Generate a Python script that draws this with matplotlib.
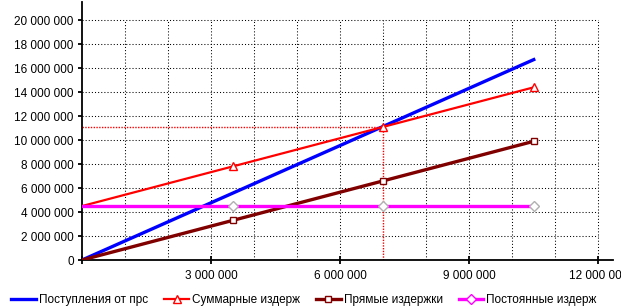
import matplotlib
matplotlib.use("Agg")
from matplotlib import pyplot as plt
from matplotlib.ticker import FuncFormatter, MultipleLocator
from matplotlib.lines import Line2D

plt.rcParams['font.family'] = ['Liberation Sans', 'DejaVu Sans']
plt.rcParams['font.size'] = 8.5

# data
volume = [0, 3500000, 7000000, 10500000]
revenue = [0, 5570000, 11140000, 16710000]
total_costs = [4500000, 7800000, 11100000, 14400000]
direct_costs = [0, 3300000, 6600000, 9900000]
fixed_costs = [4500000, 4500000, 4500000, 4500000]
breakeven_x = 7000000
breakeven_y = 11100000

labels = ["Поступления от прс", "Суммарные издерж", "Прямые издержки", "Постоянные издерж"]

fig = plt.figure(figsize=(6.21, 3.07), dpi=100)
ax = fig.add_axes([0.132, 0.153, 0.855, 0.84])

#grid only inside 0..12M x 0..20M (no grid line under the break-even vertical)
grid_x = [i * 1000000 for i in range(1, 13) if i * 1000000 != breakeven_x]
grid_y = [i * 2000000 for i in range(1, 11)]
ax.vlines(grid_x, 0, 20000000, colors='black', linewidth=0.75, linestyles=(0, (1, 2)), zorder=0)
ax.hlines(grid_y, 0, 12000000, colors='black', linewidth=0.75, linestyles=(0, (1, 2)), zorder=0)
ax.vlines([breakeven_x], breakeven_y, 20000000, colors='black', linewidth=0.75,
          linestyles=(0, (1, 2)), zorder=0)

# break even helper lines
ax.plot([0, breakeven_x], [breakeven_y, breakeven_y], color='red', linewidth=1.0,
        linestyle=(0, (1, 1)), zorder=2)
ax.plot([breakeven_x, breakeven_x], [0, breakeven_y], color='red', linewidth=1.0,
        linestyle=(0, (1, 1)), zorder=2)

ax.plot(volume, revenue, color='#0000ff', linewidth=2.4, zorder=3)
ax.plot(volume, total_costs, color='#ff0000', linewidth=1.6, zorder=3)
ax.plot(volume[1:], total_costs[1:], linestyle='none', marker='^', markersize=6,
        markerfacecolor='white', markeredgecolor='#ff0000', markeredgewidth=1, zorder=4)
ax.plot(volume, direct_costs, color='#800000', linewidth=2.4, zorder=3)
ax.plot(volume[1:], direct_costs[1:], linestyle='none', marker='s', markersize=5,
        markerfacecolor='white', markeredgecolor='#800000', markeredgewidth=1, zorder=4)
ax.plot(volume, fixed_costs, color='#ff00ff', linewidth=2.4, zorder=3)
ax.plot(volume[1:], fixed_costs[1:], linestyle='none', marker='D', markersize=5,
        markerfacecolor='white', markeredgecolor='#b0b0b0', markeredgewidth=1, zorder=4)

ax.set_xlim(0, 12340000)
ax.set_ylim(0, 21500000)

ax.spines['top'].set_visible(False)
ax.spines['right'].set_visible(False)
ax.spines['left'].set_linewidth(1.3)
ax.spines['bottom'].set_linewidth(1.3)

def fmt(v, pos):
    return "{:,}".format(int(round(v))).replace(",", " ")

ax.xaxis.set_major_locator(MultipleLocator(3000000))
ax.yaxis.set_major_locator(MultipleLocator(2000000))
ax.xaxis.set_major_formatter(FuncFormatter(lambda v, p: "" if v == 0 else fmt(v, p)))
ax.yaxis.set_major_formatter(FuncFormatter(fmt))
ax.tick_params(axis='x', direction='inout', length=6, width=1.3, pad=4)
ax.tick_params(axis='y', direction='out', length=3, width=1.3, pad=3)

handles = [
    Line2D([], [], color='#0000ff', linewidth=2.4),
    Line2D([], [], color='#ff0000', linewidth=1.6, marker='^', markersize=6,
           markerfacecolor='white', markeredgecolor='#ff0000'),
    Line2D([], [], color='#800000', linewidth=2.4, marker='s', markersize=5,
           markerfacecolor='white', markeredgecolor='#800000'),
    Line2D([], [], color='#ff00ff', linewidth=2.4, marker='D', markersize=5,
           markerfacecolor='white', markeredgecolor='#ff00ff'),
]
fig.legend(handles, labels, loc='lower left', bbox_to_anchor=(0.005, -0.025), ncol=4,
           frameon=False, handlelength=2.1, handletextpad=0.25, columnspacing=1.35,
           borderaxespad=0.3)

fig.savefig("out.png", dpi=100)
